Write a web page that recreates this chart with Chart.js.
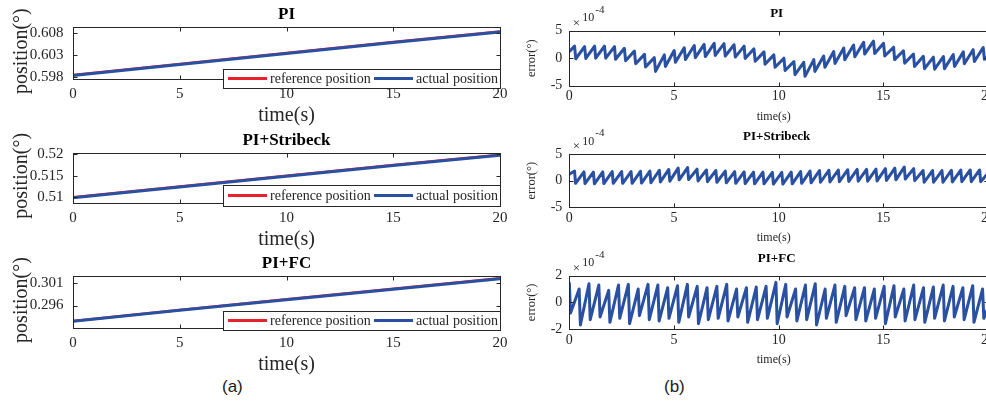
<!DOCTYPE html>
<html>
<head>
<meta charset="utf-8">
<script src="https://cdn.jsdelivr.net/npm/chart.js@4.4.1/dist/chart.umd.min.js"></script>
<style>
  html, body { margin: 0; padding: 0; overflow: hidden; background: #fff; }
  body { width: 986px; height: 403px; position: relative; }
  canvas { position: absolute; }
  .cap { position: absolute; font-family: "Liberation Sans", Arial, sans-serif; font-size: 17px; color: #1a1a1a; }
</style>
</head>
<body>
<canvas id="posPI"></canvas>
<canvas id="posStrib"></canvas>
<canvas id="posFC"></canvas>
<canvas id="errPI"></canvas>
<canvas id="errStrib"></canvas>
<canvas id="errFC"></canvas>
<div class="cap" style="left:222px;top:377px">(a)</div>
<div class="cap" style="left:664px;top:377px">(b)</div>
<script>
// ---- data ----
const timeTicks = [0, 5, 10, 15, 20];

// position plots (deg)
const posTime = [0, 5, 10, 15, 20];
const piRef = [0.5985, 0.6010, 0.6035, 0.6060, 0.6084];
const piAct = [0.5984, 0.6009, 0.6034, 0.6059, 0.6083];
const stribRef = [0.5100, 0.5125, 0.5150, 0.5175, 0.5199];
const stribAct = [0.5099, 0.5124, 0.5149, 0.5174, 0.5198];
const fcRef = [0.2925, 0.2950, 0.2974, 0.2998, 0.3022];
const fcAct = [0.2924, 0.2949, 0.2973, 0.2997, 0.3021];

const piTicks = [0.598, 0.603, 0.608];
const piTickLabels = ['0.598', '0.603', '0.608'];
const stribTicks = [0.51, 0.515, 0.52];
const stribTickLabels = ['0.51', '0.515', '0.52'];
const fcTicks = [0.296, 0.301];
const fcTickLabels = ['0.296', '0.301'];

// error plots (units of 1e-4 deg)
const errPiT = [0, 0.25,
  0.31, 0.73, 0.79, 1.21, 1.26, 1.68, 1.74, 2.16, 2.21, 2.63, 2.69, 3.11, 3.17, 3.59, 3.64, 4.06, 4.12, 4.54, 4.59, 5.01,
  5.07, 5.49, 5.55, 5.97, 6.02, 6.44, 6.50, 6.92, 6.97, 7.39, 7.45, 7.87, 7.93, 8.35, 8.40, 8.82, 8.88, 9.30, 9.35, 9.77,
  9.83, 10.25, 10.31, 10.73, 10.78, 11.20, 11.26, 11.68, 11.73, 12.15, 12.21, 12.63, 12.69, 13.11, 13.16, 13.58, 13.64, 14.06, 14.11, 14.53,
  14.59, 15.01, 15.07, 15.49, 15.54, 15.96, 16.02, 16.44, 16.49, 16.91, 16.97, 17.39, 17.45, 17.87, 17.92, 18.34, 18.40, 18.82, 18.87, 19.29,
  19.35, 19.77, 19.83, 20];
const errPiV = [1.2, 2.2,
  -0.1, 2.1, -0.05, 2.2, 0.0, 2.2, 0.0, 2.1, -0.2, 1.8, -0.45, 1.3, -1.0, 0.7, -1.6, 0.1, -2.4, 0.6, -1.5, 1.4,
  -0.75, 1.9, -0.25, 2.3, 0.1, 2.5, 0.3, 2.7, 0.5, 2.65, 0.4, 2.45, 0.2, 2.2, -0.05, 1.7, -0.55, 1.15, -1.1, 0.6,
  -1.65, 0.0, -2.25, -0.6, -3.0, -0.75, -3.3, -0.25, -2.4, 0.4, -1.65, 1.2, -0.95, 1.85, -0.3, 2.4, 0.25, 2.9, 0.75, 3.1,
  0.85, 2.7, 0.4, 2.0, -0.25, 1.35, -0.9, 0.75, -1.5, 0.35, -1.9, 0.2, -2.0, 0.3, -1.9, 0.65, -1.5, 1.15, -1.0, 1.55,
  -0.6, 1.95, -0.2, 0.4];

const errStribT = [0, 0.25,
  0.30, 0.70, 0.75, 1.15, 1.20, 1.60, 1.65, 2.05, 2.10, 2.50, 2.55, 2.95, 3.00, 3.40, 3.45, 3.85, 3.90, 4.30, 4.35, 4.75,
  4.80, 5.20, 5.25, 5.65, 5.70, 6.10, 6.15, 6.55, 6.60, 7.00, 7.05, 7.45, 7.50, 7.90, 7.95, 8.35, 8.40, 8.80, 8.85, 9.25,
  9.30, 9.70, 9.75, 10.15, 10.20, 10.60, 10.65, 11.05, 11.10, 11.50, 11.55, 11.95, 12.00, 12.40, 12.45, 12.85, 12.90, 13.30, 13.35, 13.75,
  13.80, 14.20, 14.25, 14.65, 14.70, 15.10, 15.15, 15.55, 15.60, 16.00, 16.05, 16.45, 16.50, 16.90, 16.95, 17.35, 17.40, 17.80, 17.85, 18.25,
  18.30, 18.70, 18.75, 19.15, 19.20, 19.60, 19.65, 20];
const errStribV = [1.2, 1.8,
  -0.5, 1.65, -0.55, 1.6, -0.6, 1.65, -0.55, 1.7, -0.5, 1.7, -0.5, 1.7, -0.5, 1.75, -0.45, 1.8, -0.4, 1.95, -0.25, 2.1,
  -0.1, 2.35, 0.15, 2.45, 0.2, 2.15, -0.05, 2.0, -0.2, 1.9, -0.3, 1.8, -0.4, 1.7, -0.5, 1.65, -0.55, 1.6, -0.6, 1.6,
  -0.6, 1.55, -0.65, 1.55, -0.65, 1.6, -0.6, 1.7, -0.5, 1.8, -0.4, 1.9, -0.3, 1.95, -0.25, 2.0, -0.2, 2.05, -0.15, 2.1,
  -0.1, 2.1, -0.1, 2.15, -0.05, 2.25, 0.05, 2.35, 0.15, 2.55, 0.3, 2.25, 0.0, 1.9, -0.3, 1.9, -0.3, 1.9, -0.3, 1.95,
  -0.25, 2.0, -0.2, 2.0, -0.2, 2.0, -0.2, 1.4];

const errFcT = [0.00, 0.06,
  0.47, 0.53, 0.94, 1.00, 1.41, 1.47, 1.88, 1.94, 2.35, 2.41, 2.82, 2.88, 3.29, 3.35, 3.76, 3.82, 4.23, 4.29,
  4.70, 4.76, 5.17, 5.23, 5.64, 5.70, 6.11, 6.17, 6.58, 6.64, 7.05, 7.11, 7.52, 7.58, 7.99, 8.05, 8.46, 8.52,
  8.93, 8.99, 9.40, 9.46, 9.87, 9.93, 10.34, 10.40, 10.81, 10.87, 11.28, 11.34, 11.75, 11.81, 12.22, 12.28, 12.69, 12.75,
  13.16, 13.22, 13.63, 13.69, 14.10, 14.16, 14.57, 14.63, 15.04, 15.10, 15.51, 15.57, 15.98, 16.04, 16.45, 16.51, 16.92, 16.98,
  17.39, 17.45, 17.86, 17.92, 18.33, 18.39, 18.80, 18.86, 19.27, 19.33, 19.74, 19.80, 20];
const errFcV = [1.5, -0.8,
  1.0, -1.7, 1.4, -1.3, 1.3, -1.1, 0.9, -1.5, 1.3, -1.2, 1.35, -1.6, 1.0, -1.0, 1.35, -1.3,
  1.3, -1.4, 1.1, -1.2, 1.25, -1.5, 1.35, -1.1, 1.2, -1.6, 1.1, -1.3, 1.2, -1.2, 1.35, -1.4, 1.0, -1.1,
  1.1, -1.5, 1.15, -1.3, 1.2, -1.2, 1.5, -1.6, 1.35, -1.1, 1.0, -1.4, 1.3, -1.3, 1.4, -1.7, 1.0, -1.2,
  1.3, -1.5, 1.2, -1.0, 1.1, -1.3, 1.1, -1.4, 1.0, -1.2, 1.2, -1.6, 1.25, -1.1, 1.0, -1.4, 1.3, -1.3,
  1.1, -1.5, 1.15, -1.2, 1.3, -1.4, 1.2, -1.1, 1.1, -1.3, 1.25, -1.5, 1.0, -1.2, -0.4];

const errTicks55 = [-5, 0, 5];
const errTicks22 = [-2, 0, 2];

const RED = '#e8222c';
const BLUE = '#2a50a2';
const SERIF = '"Liberation Serif", "Times New Roman", serif';

// frame, titles, labels and legend drawn MATLAB style
const matlabFrame = {
  id: 'matlabFrame',
  afterDatasetsDraw(chart, args, o) {
    const { ctx, chartArea: a, scales: { x, y } } = chart;
    ctx.save();
    ctx.strokeStyle = '#262626';
    ctx.lineWidth = 1;
    const L = Math.round(a.left) + 0.5, T = Math.round(a.top) + 0.5;
    const R = Math.round(a.right) + 0.5, B = Math.round(a.bottom) + 0.5;
    ctx.strokeRect(L, T, R - L, B - T);
    ctx.beginPath();
    x.ticks.forEach(t => {
      const px = Math.round(x.getPixelForValue(t.value)) + 0.5;
      ctx.moveTo(px, B); ctx.lineTo(px, B - o.tick);
      ctx.moveTo(px, T); ctx.lineTo(px, T + o.tick);
    });
    y.ticks.forEach(t => {
      const py = Math.round(y.getPixelForValue(t.value)) + 0.5;
      ctx.moveTo(L, py); ctx.lineTo(L + o.tick, py);
      ctx.moveTo(R, py); ctx.lineTo(R - o.tick, py);
    });
    ctx.stroke();

    ctx.fillStyle = '#000';
    ctx.textAlign = 'center';
    ctx.textBaseline = 'middle';
    ctx.font = `bold ${o.titleSize}px ${SERIF}`;
    ctx.fillText(o.title, (a.left + a.right) / 2 + (o.titleDx || 0), a.top - o.titleGap);

    ctx.fillStyle = '#262626';
    ctx.font = `${o.xlSize}px ${SERIF}`;
    ctx.fillText('time(s)', (a.left + a.right) / 2 + (o.xlDx || 0), a.bottom + o.xlGap);

    ctx.save();
    ctx.translate(o.ylX, (a.top + a.bottom) / 2 + (o.ylDy || 0));
    ctx.rotate(-Math.PI / 2);
    ctx.font = `${o.ylSize}px ${SERIF}`;
    ctx.fillText(o.ylabel, 0, 0);
    ctx.restore();

    if (o.exp) {
      ctx.font = `13px ${SERIF}`;
      ctx.fillText('\u00d7', a.left + 7, a.top - 7);
      ctx.font = `12px ${SERIF}`;
      ctx.fillText('10', a.left + 19, a.top - 12.5);
      ctx.font = `11px ${SERIF}`;
      ctx.fillText('-4', a.left + 30.5, a.top - 21);
    }

    if (o.legend) {
      const lg = o.legend;
      const top = a.bottom + lg.dy, h = lg.h;
      ctx.fillStyle = '#fff';
      ctx.fillRect(lg.x0, top, lg.x1 - lg.x0, h);
      ctx.strokeStyle = '#262626';
      ctx.lineWidth = 1;
      ctx.strokeRect(lg.x0 + 0.5, Math.round(top) + 0.5, lg.x1 - lg.x0, h);
      const cy = top + h / 2;
      ctx.lineWidth = 3;
      ctx.strokeStyle = RED;
      ctx.beginPath(); ctx.moveTo(lg.x0 + 5, cy); ctx.lineTo(lg.x0 + 44, cy); ctx.stroke();
      ctx.strokeStyle = BLUE;
      ctx.beginPath(); ctx.moveTo(lg.x0 + 151, cy); ctx.lineTo(lg.x0 + 190, cy); ctx.stroke();
      ctx.fillStyle = '#262626';
      ctx.textAlign = 'left';
      ctx.font = `14px ${SERIF}`;
      ctx.fillText('reference position', lg.x0 + 47, cy + 0.5);
      ctx.fillText('actual position', lg.x0 + 193, cy + 0.5);
    }
    ctx.restore();
  }
};

function toXY(ts, vs) {
  return ts.map((t, i) => ({ x: t, y: vs[i] }));
}

// box: canvas position [left, top, w, h]; plot: page coords [l, t, r, b]
function panel(id, box, plot, p) {
  const cv = document.getElementById(id);
  cv.width = box[2];
  cv.height = box[3];
  cv.style.left = box[0] + 'px';
  cv.style.top = box[1] + 'px';
  const xH = p.xH;
  const yW = plot[0] - box[0];
  const pad = {
    left: 0,
    top: plot[1] - box[1],
    right: box[0] + box[2] - plot[2],
    bottom: box[1] + box[3] - plot[3] - xH
  };
  const frameOpts = Object.assign({}, p.frame);
  if (frameOpts.legend) {
    frameOpts.legend = Object.assign({}, frameOpts.legend, {
      x0: frameOpts.legend.x0 - box[0], x1: frameOpts.legend.x1 - box[0]
    });
  }
  return new Chart(cv, {
    type: 'line',
    data: { datasets: p.datasets },
    options: {
      responsive: false,
      animation: false,
      layout: { padding: pad },
      plugins: { legend: { display: false }, tooltip: { enabled: false }, matlabFrame: frameOpts },
      elements: { point: { radius: 0 }, line: { tension: 0, borderJoinStyle: 'round' } },
      scales: {
        x: {
          type: 'linear', min: 0, max: 20,
          grid: { display: false, drawTicks: false },
          border: { display: false },
          afterBuildTicks: s => { s.ticks = timeTicks.map(v => ({ value: v })); },
          afterFit: s => { s.height = xH; s.paddingLeft = 0; s.paddingRight = 0; },
          ticks: {
            autoSkip: false, maxRotation: 0, padding: p.xPad, color: '#262626',
            font: { family: SERIF, size: p.tickSize, lineHeight: 1 },
            callback: v => String(v)
          }
        },
        y: {
          type: 'linear', min: p.yMin, max: p.yMax,
          grid: { display: false, drawTicks: false },
          border: { display: false },
          afterBuildTicks: s => { s.ticks = p.yTicks.map(v => ({ value: v })); },
          afterFit: s => { s.width = yW; s.paddingTop = 0; s.paddingBottom = 0; },
          ticks: {
            autoSkip: false, padding: p.yPad, color: '#262626',
            font: { family: SERIF, size: p.tickSize, lineHeight: 1 },
            callback: (v, i) => p.yLabels[i]
          }
        }
      }
    },
    plugins: [matlabFrame]
  });
}

// blue (actual) is drawn over red (reference), as in the figure
function posSets(ref, act) {
  return [
    { data: toXY(posTime, ref), borderColor: RED, borderWidth: 2.5, order: 2 },
    { data: toXY(posTime, act), borderColor: BLUE, borderWidth: 3, order: 1 }
  ];
}

const leftFrame = (title, legendDy, legendH) => ({
  title, titleSize: 17, titleGap: 12.5, xlSize: 20, xlGap: 37, ylSize: 20, ylX: 22, ylDy: -2,
  ylabel: 'position(\u00b0)', tick: 4,
  legend: { x0: 223, x1: 500, dy: legendDy, h: legendH }
});

panel('posPI', [0, 0, 510, 128], [73, 27.3, 500, 79], {
  datasets: posSets(piRef, piAct), yMin: 0.5976, yMax: 0.60936,
  yTicks: piTicks, yLabels: piTickLabels, tickSize: 15, xPad: 8, yPad: 9.5, xH: 26,
  frame: leftFrame('PI', -10, 19)
});
panel('posStrib', [0, 126, 510, 124], [73, 152.7, 500, 203], {
  datasets: posSets(stribRef, stribAct), yMin: 0.50867, yMax: 0.52037,
  yTicks: stribTicks, yLabels: stribTickLabels, tickSize: 15, xPad: 8, yPad: 9.5, xH: 26,
  frame: leftFrame('PI+Stribeck', -18, 21)
});
panel('posFC', [0, 250, 510, 125], [73, 276, 500, 328], {
  datasets: posSets(fcRef, fcAct), yMin: 0.29089, yMax: 0.3027,
  yTicks: fcTicks, yLabels: fcTickLabels, tickSize: 15, xPad: 8, yPad: 9.5, xH: 26,
  frame: leftFrame('PI+FC', -17, 19)
});

const rightFrame = (title) => ({
  title, titleSize: 13, titleGap: 17.5, titleDx: -2, xlSize: 12, xlGap: 31, xlDx: -5, ylSize: 12.5, ylX: 22,
  ylabel: 'error(\u00b0)', tick: 4, exp: true
});
const errSet = (ts, vs) => [{ data: toXY(ts, vs), borderColor: BLUE, borderWidth: 3 }];

panel('errPI', [510, 0, 500, 125], [569.3, 30.7, 988, 85.7], {
  datasets: errSet(errPiT, errPiV), yMin: -5, yMax: 5,
  yTicks: errTicks55, yLabels: ['-5', '0', '5'], tickSize: 14, xPad: 4, yPad: 7, xH: 20,
  frame: rightFrame('PI')
});
panel('errStrib', [510, 125, 500, 125], [569.3, 154, 988, 207.3], {
  datasets: errSet(errStribT, errStribV), yMin: -5, yMax: 5,
  yTicks: errTicks55, yLabels: ['-5', '0', '5'], tickSize: 14, xPad: 4, yPad: 7, xH: 20,
  frame: rightFrame('PI+Stribeck')
});
panel('errFC', [510, 250, 500, 125], [569.3, 275.7, 988, 329], {
  datasets: errSet(errFcT, errFcV), yMin: -2, yMax: 2,
  yTicks: errTicks22, yLabels: ['-2', '0', '2'], tickSize: 14, xPad: 4, yPad: 7, xH: 20,
  frame: rightFrame('PI+FC')
});
</script>
</body>
</html>
